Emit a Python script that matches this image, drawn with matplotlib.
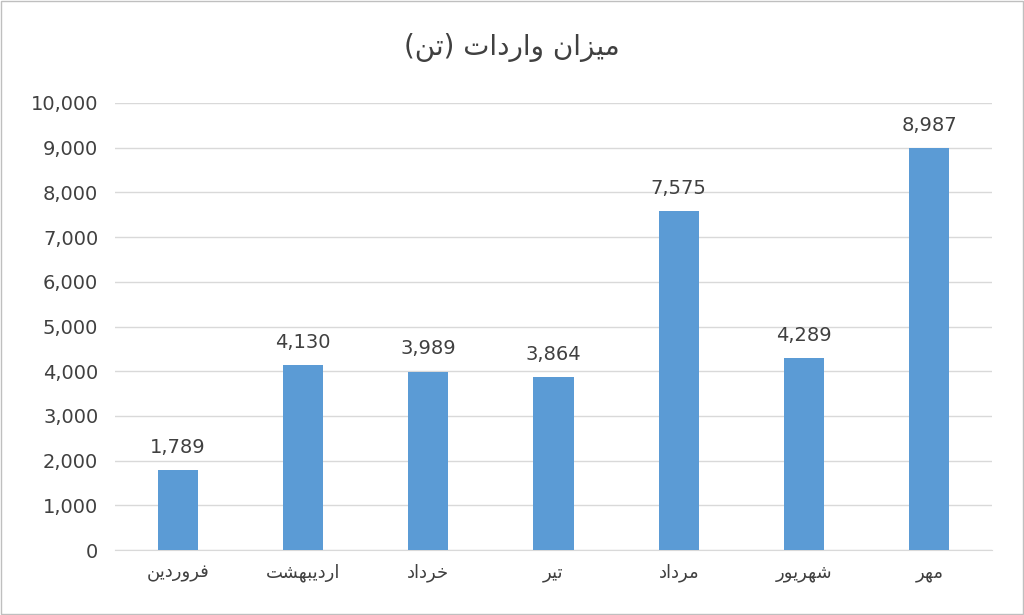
import matplotlib
matplotlib.use("Agg")
import matplotlib.pyplot as plt
from matplotlib.ticker import FuncFormatter

categories = ["فروردین", "اردیبهشت", "خرداد", "تیر", "مرداد", "شهریور", "مهر"]
values = [1789, 4130, 3989, 3864, 7575, 4289, 8987]
title = "میزان واردات (تن)"

# minimal Arabic/Persian shaper: (isolated, final, initial, medial); 2-tuple = right-joining only
FORMS = {
    "ا": (0xFE8D, 0xFE8E), "د": (0xFEA9, 0xFEAA), "ر": (0xFEAD, 0xFEAE),
    "ز": (0xFEAF, 0xFEB0), "و": (0xFEED, 0xFEEE),
    "ب": (0xFE8F, 0xFE90, 0xFE91, 0xFE92), "ت": (0xFE95, 0xFE96, 0xFE97, 0xFE98),
    "خ": (0xFEA5, 0xFEA6, 0xFEA7, 0xFEA8), "ش": (0xFEB5, 0xFEB6, 0xFEB7, 0xFEB8),
    "ف": (0xFED1, 0xFED2, 0xFED3, 0xFED4), "م": (0xFEE1, 0xFEE2, 0xFEE3, 0xFEE4),
    "ن": (0xFEE5, 0xFEE6, 0xFEE7, 0xFEE8), "ه": (0xFEE9, 0xFEEA, 0xFEEB, 0xFEEC),
    "ی": (0xFBFC, 0xFBFD, 0xFBFE, 0xFBFF),
}
MIRROR = {"(": ")", ")": "("}

def shape(s):
    out = []
    for i, c in enumerate(s):
        if c not in FORMS:
            out.append(MIRROR.get(c, c)); continue
        f = FORMS[c]
        prev = s[i-1] if i > 0 else ""
        nxt = s[i+1] if i + 1 < len(s) else ""
        jp = prev in FORMS and len(FORMS[prev]) == 4
        jn = len(f) == 4 and nxt in FORMS
        if jp and jn: g = f[3]
        elif jp: g = f[1]
        elif jn: g = f[2]
        else: g = f[0]
        out.append(chr(g))
    return "".join(out[::-1])

plt.rcParams['font.family'] = ['DejaVu Sans']
fig = plt.figure(figsize=(10.24, 6.15), dpi=100)
ax = fig.add_axes([115/1024, 1-550/615, (992-115)/1024, (550-103)/615])
x = range(len(categories))
ax.bar(x, values, width=0.32, color="#5B9BD5", zorder=3)
for xi, v in zip(x, values):
    ax.text(xi, v + 300, f"{v:,}", ha="center", va="bottom", fontsize=14, color="#404040")
ax.set_ylim(0, 10000)
ax.set_yticks(range(0, 10001, 1000))
ax.yaxis.set_major_formatter(FuncFormatter(lambda v, p: f"{int(v):,}"))
ax.set_xlim(-0.5, len(categories) - 0.5)
ax.set_xticks(list(x))
ax.set_xticklabels([shape(c) for c in categories], fontsize=13, color="#404040")
ax.tick_params(axis="y", labelsize=14, labelcolor="#404040", length=0, pad=12)
ax.tick_params(axis="x", length=0, pad=10)
ax.grid(axis="y", color="#D9D9D9", linewidth=1, zorder=0)
for s in ["top", "left", "right"]:
    ax.spines[s].set_visible(False)
ax.spines["bottom"].set_color("#D9D9D9")
fig.text(0.5, 1-47/615, shape(title), ha="center", va="center", fontsize=20, color="#404040")
fig.patches.append(plt.Rectangle((0.001, 0.001), 0.998, 0.998, transform=fig.transFigure,
                                 fill=False, edgecolor="#BFBFBF", linewidth=1))
fig.savefig("out.png", dpi=100)
